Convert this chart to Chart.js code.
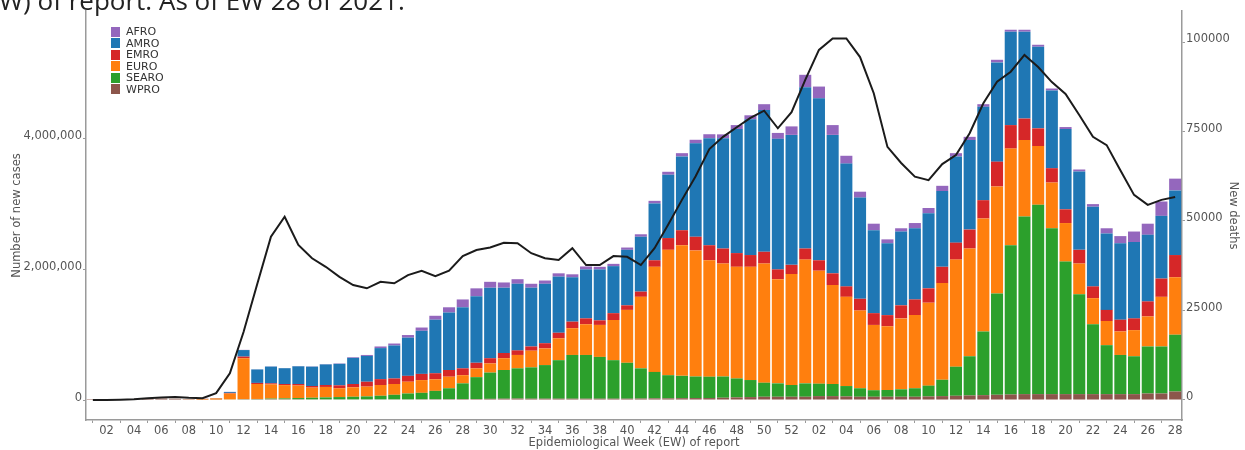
<!DOCTYPE html>
<html>
<head>
<meta charset="utf-8">
<script src="https://cdn.jsdelivr.net/npm/chart.js@4.4.1/dist/chart.umd.min.js"></script>
<style>
  html, body { margin: 0; padding: 0; background: #fff; }
  #wrap { position: relative; width: 1245px; height: 450px; overflow: hidden; }
  #caption { position: absolute; left: -23px; top: -18px; font: 26px 'Open Sans', sans-serif; color: #222; white-space: nowrap; }
  #legend { position: absolute; left: 111px; top: 26px; font: 11px 'DejaVu Sans', sans-serif; color: #333; }
  #legend .row { display: flex; align-items: center; height: 11.5px; line-height: 11.5px; }
  #legend .box { width: 9px; height: 10px; margin-right: 6px; }
</style>
</head>
<body>
<div id="wrap">
  <canvas id="grafico" width="1245" height="450"></canvas>
  <div id="caption">(EW) of report. As of EW 28 of 2021.</div>
  <div id="legend"></div>
</div>
<script>
// semanas epidemiológicas: 2020 (01-52) seguidas de 2021 (01-28)
const semanas2020 = ['01','02','03','04','05','06','07','08','09','10','11','12','13','14','15','16','17','18','19','20',
  '21','22','23','24','25','26','27','28','29','30','31','32','33','34','35','36','37','38','39','40',
  '41','42','43','44','45','46','47','48','49','50','51','52'];
const semanas2021 = ['01','02','03','04','05','06','07','08','09','10','11','12','13','14','15','16','17','18','19','20',
  '21','22','23','24','25','26','27','28'];

// casos novos por semana, por região da OMS
const wpro = [1000, 2000, 4000, 12000, 20000, 22000, 18000, 12000, 6000, 6000,
  8000, 12000, 12000, 13000, 12000, 12000, 10000, 10000, 10000, 10000,
  10000, 10000, 10000, 10000, 12000, 12000, 13000, 15000, 15000, 18000,
  20000, 22000, 20000, 20000, 20000, 20000, 20000, 20000, 20000, 20000,
  22000, 25000, 25000, 28000, 30000, 30000, 35000, 40000, 45000, 50000,
  50000, 50000, 50000, 60000, 60000, 55000, 50000, 50000, 50000, 50000,
  50000, 55000, 60000, 65000, 70000, 75000, 80000, 85000, 90000, 90000,
  90000, 90000, 90000, 90000, 90000, 90000, 90000, 100000, 100000, 130000];

const searo = [0, 0, 0, 0, 0, 0, 0, 0, 0, 500,
  1000, 2000, 4000, 9000, 13000, 18000, 25000, 30000, 35000, 40000,
  45000, 55000, 70000, 90000, 98000, 128000, 167000, 240000, 335000, 402000,
  440000, 463000, 480000, 515000, 590000, 670000, 670000, 640000, 590000, 550000,
  463000, 405000, 355000, 342000, 330000, 327000, 325000, 290000, 261000, 215000,
  205000, 180000, 205000, 190000, 185000, 159000, 130000, 100000, 103000, 114000,
  130000, 165000, 250000, 445000, 600000, 975000, 1550000, 2285000, 2720000, 2900000,
  2540000, 2030000, 1530000, 1070000, 750000, 600000, 580000, 720000, 720000, 870000];

const euro = [0, 0, 0, 0, 0, 1000, 1000, 3000, 10000, 18000,
  90000, 626000, 229000, 218000, 203000, 192000, 155000, 160000, 135000, 145000,
  150000, 165000, 165000, 180000, 195000, 177000, 177000, 125000, 135000, 140000,
  180000, 205000, 255000, 255000, 335000, 410000, 470000, 490000, 615000, 810000,
  1095000, 1610000, 1920000, 2000000, 1930000, 1783000, 1730000, 1710000, 1734000, 1825000,
  1595000, 1700000, 1895000, 1730000, 1515000, 1366000, 1190000, 1000000, 977000, 1086000,
  1120000, 1270000, 1480000, 1640000, 1650000, 1730000, 1640000, 1480000, 1170000, 900000,
  700000, 590000, 470000, 400000, 370000, 360000, 400000, 460000, 760000, 880000];

const emro = [0, 0, 0, 0, 0, 0, 0, 1000, 3000, 3000,
  10000, 25000, 17000, 16000, 17000, 23000, 25000, 30000, 45000, 50000,
  75000, 90000, 85000, 90000, 95000, 93000, 103000, 105000, 85000, 80000,
  80000, 70000, 65000, 80000, 85000, 100000, 90000, 70000, 105000, 70000,
  80000, 100000, 180000, 230000, 210000, 230000, 230000, 210000, 180000, 180000,
  150000, 140000, 170000, 160000, 180000, 160000, 180000, 180000, 170000, 200000,
  240000, 220000, 250000, 260000, 290000, 280000, 380000, 360000, 330000, 270000,
  220000, 210000, 210000, 180000, 170000, 180000, 180000, 230000, 280000, 340000];

const amro = [0, 0, 0, 0, 0, 0, 0, 0, 2000, 3000,
  15000, 100000, 206000, 256000, 242000, 271000, 296000, 315000, 329000, 400000,
  395000, 475000, 505000, 585000, 660000, 820000, 880000, 935000, 1020000, 1080000,
  1000000, 1020000, 900000, 910000, 860000, 680000, 750000, 780000, 720000, 850000,
  840000, 870000, 970000, 1130000, 1430000, 1640000, 1690000, 1900000, 2080000, 2170000,
  2000000, 1990000, 2470000, 2480000, 2120000, 1880000, 1550000, 1270000, 1100000, 1130000,
  1090000, 1150000, 1160000, 1320000, 1370000, 1430000, 1520000, 1430000, 1330000, 1250000,
  1190000, 1230000, 1200000, 1220000, 1170000, 1170000, 1170000, 1020000, 960000, 990000];

const afro = [0, 0, 0, 0, 0, 0, 0, 0, 0, 0,
  1000, 3000, 2000, 3000, 3000, 4000, 4000, 5000, 6000, 10000,
  15000, 25000, 30000, 40000, 50000, 60000, 80000, 120000, 120000, 90000,
  80000, 70000, 60000, 50000, 50000, 45000, 45000, 40000, 35000, 35000,
  38000, 40000, 45000, 50000, 55000, 60000, 58000, 60000, 60000, 90000,
  90000, 130000, 190000, 180000, 150000, 120000, 90000, 100000, 60000, 50000,
  80000, 80000, 80000, 50000, 50000, 40000, 40000, 30000, 30000, 30000,
  30000, 30000, 30000, 40000, 80000, 110000, 160000, 170000, 220000, 180000];

// óbitos novos por semana (eixo da direita)
const obitos = [0, 0, 100, 200, 500, 700, 800, 600, 500, 1900,
  7450, 19000, 32400, 45600, 51200, 43300, 39600, 37200, 34400, 32100,
  31200, 33000, 32600, 34900, 36100, 34600, 36100, 40200, 41900, 42600,
  43900, 43800, 41000, 39600, 39100, 42400, 37700, 37700, 40200, 40000,
  37700, 42400, 49000, 55900, 62500, 70100, 73500, 76200, 78800, 80800,
  75900, 80400, 89400, 97800, 101000, 101000, 95800, 85700, 70700, 66200,
  62400, 61400, 65900, 68400, 74500, 82900, 88900, 91700, 96400, 93000,
  88800, 85500, 79600, 73500, 71200, 64200, 57300, 54500, 55900, 56700];

const ticksCasos = [0, 2000000, 4000000];
const ticksObitos = [0, 25000, 50000, 75000, 100000];

// ordem de empilhamento: a primeira fica embaixo
const regioes = [
  { nome: 'WPRO', dados: wpro, cor: '#8c564b' },
  { nome: 'SEARO', dados: searo, cor: '#2ca02c' },
  { nome: 'EURO', dados: euro, cor: '#ff7f0e' },
  { nome: 'EMRO', dados: emro, cor: '#d62728' },
  { nome: 'AMRO', dados: amro, cor: '#1f77b4' },
  { nome: 'AFRO', dados: afro, cor: '#9467bd' }
];

const semanas = semanas2020.concat(semanas2021);

Chart.defaults.font.family = "'DejaVu Sans', sans-serif";

const fonteTicks = { family: "'DejaVu Sans', sans-serif", size: 11.5 };
const fonteTitulo = { family: "'DejaVu Sans', sans-serif", size: 11.5 };
const corEixo = '#9a9a9a';

const ctx = document.getElementById('grafico').getContext('2d');

const grafico = new Chart(ctx, {
  type: 'bar',
  data: {
    labels: semanas,
    datasets: [
      {
        type: 'line',
        label: 'New deaths',
        data: obitos,
        yAxisID: 'y1',
        borderColor: '#1b1b1b',
        borderWidth: 2,
        pointRadius: 0,
        tension: 0,
        fill: false,
        order: 0
      },
      ...regioes.map(r => ({
        label: r.nome,
        data: r.dados,
        backgroundColor: r.cor,
        borderWidth: 0,
        yAxisID: 'y',
        stack: 'casos',
        barPercentage: 0.88,
        categoryPercentage: 1,
        order: 1
      }))
    ]
  },
  options: {
    responsive: false,
    animation: false,
    devicePixelRatio: 1,
    layout: { padding: { top: 11, left: 0, right: 0, bottom: 0 } },
    plugins: {
      legend: { display: false },
      tooltip: { enabled: false }
    },
    scales: {
      x: {
        stacked: true,
        offset: true,
        grid: { display: true, drawOnChartArea: false, drawTicks: true, tickLength: 3, color: corEixo },
        border: { display: true, color: corEixo, width: 1.5 },
        ticks: {
          autoSkip: false,
          maxRotation: 0,
          minRotation: 0,
          padding: 1,
          color: '#555',
          font: fonteTicks,
          callback: function(valor) {
            const rotulo = this.getLabelForValue(valor);
            // só as semanas pares recebem rótulo
            return parseInt(rotulo, 10) % 2 === 0 ? rotulo : null;
          }
        },
        title: {
          display: true,
          text: 'Epidemiological Week (EW) of report',
          color: '#555',
          font: fonteTitulo,
          padding: { top: 0, bottom: 0 }
        },
        afterFit: eixo => { eixo.height = 30; }
      },
      y: {
        stacked: true,
        position: 'left',
        min: -306000,
        max: 5957000,
        afterBuildTicks: eixo => { eixo.ticks = ticksCasos.map(v => ({ value: v })); },
        grid: { display: true, drawOnChartArea: false, tickLength: 3, color: corEixo },
        border: { display: true, color: corEixo, width: 1.5 },
        ticks: {
          padding: 1,
          labelOffset: -2.5,
          color: '#555',
          font: fonteTicks,
          callback: v => v.toLocaleString('en-US')
        },
        title: {
          display: true,
          text: 'Number of new cases',
          color: '#555',
          font: fonteTitulo,
          padding: { top: 10, bottom: 0 }
        },
        afterFit: eixo => { eixo.width = 86; }
      },
      y1: {
        position: 'right',
        min: -5590,
        max: 108660,
        afterBuildTicks: eixo => { eixo.ticks = ticksObitos.map(v => ({ value: v })); },
        grid: { display: true, drawOnChartArea: false, tickLength: 3, color: corEixo },
        border: { display: true, color: corEixo, width: 1.5 },
        ticks: {
          padding: 1,
          labelOffset: -2.5,
          color: '#555',
          font: fonteTicks,
          callback: v => String(v)
        },
        title: {
          display: true,
          text: 'New deaths',
          color: '#555',
          font: fonteTitulo,
          padding: { top: 5, bottom: 0 }
        },
        afterFit: eixo => { eixo.width = 63; }
      }
    }
  }
});

// legenda no canto superior esquerdo, AFRO em cima
const legenda = document.getElementById('legend');
regioes.slice().reverse().forEach(r => {
  const linha = document.createElement('div');
  linha.className = 'row';
  const caixa = document.createElement('span');
  caixa.className = 'box';
  caixa.style.background = r.cor;
  linha.appendChild(caixa);
  linha.appendChild(document.createTextNode(r.nome));
  legenda.appendChild(linha);
});
</script>
</body>
</html>
